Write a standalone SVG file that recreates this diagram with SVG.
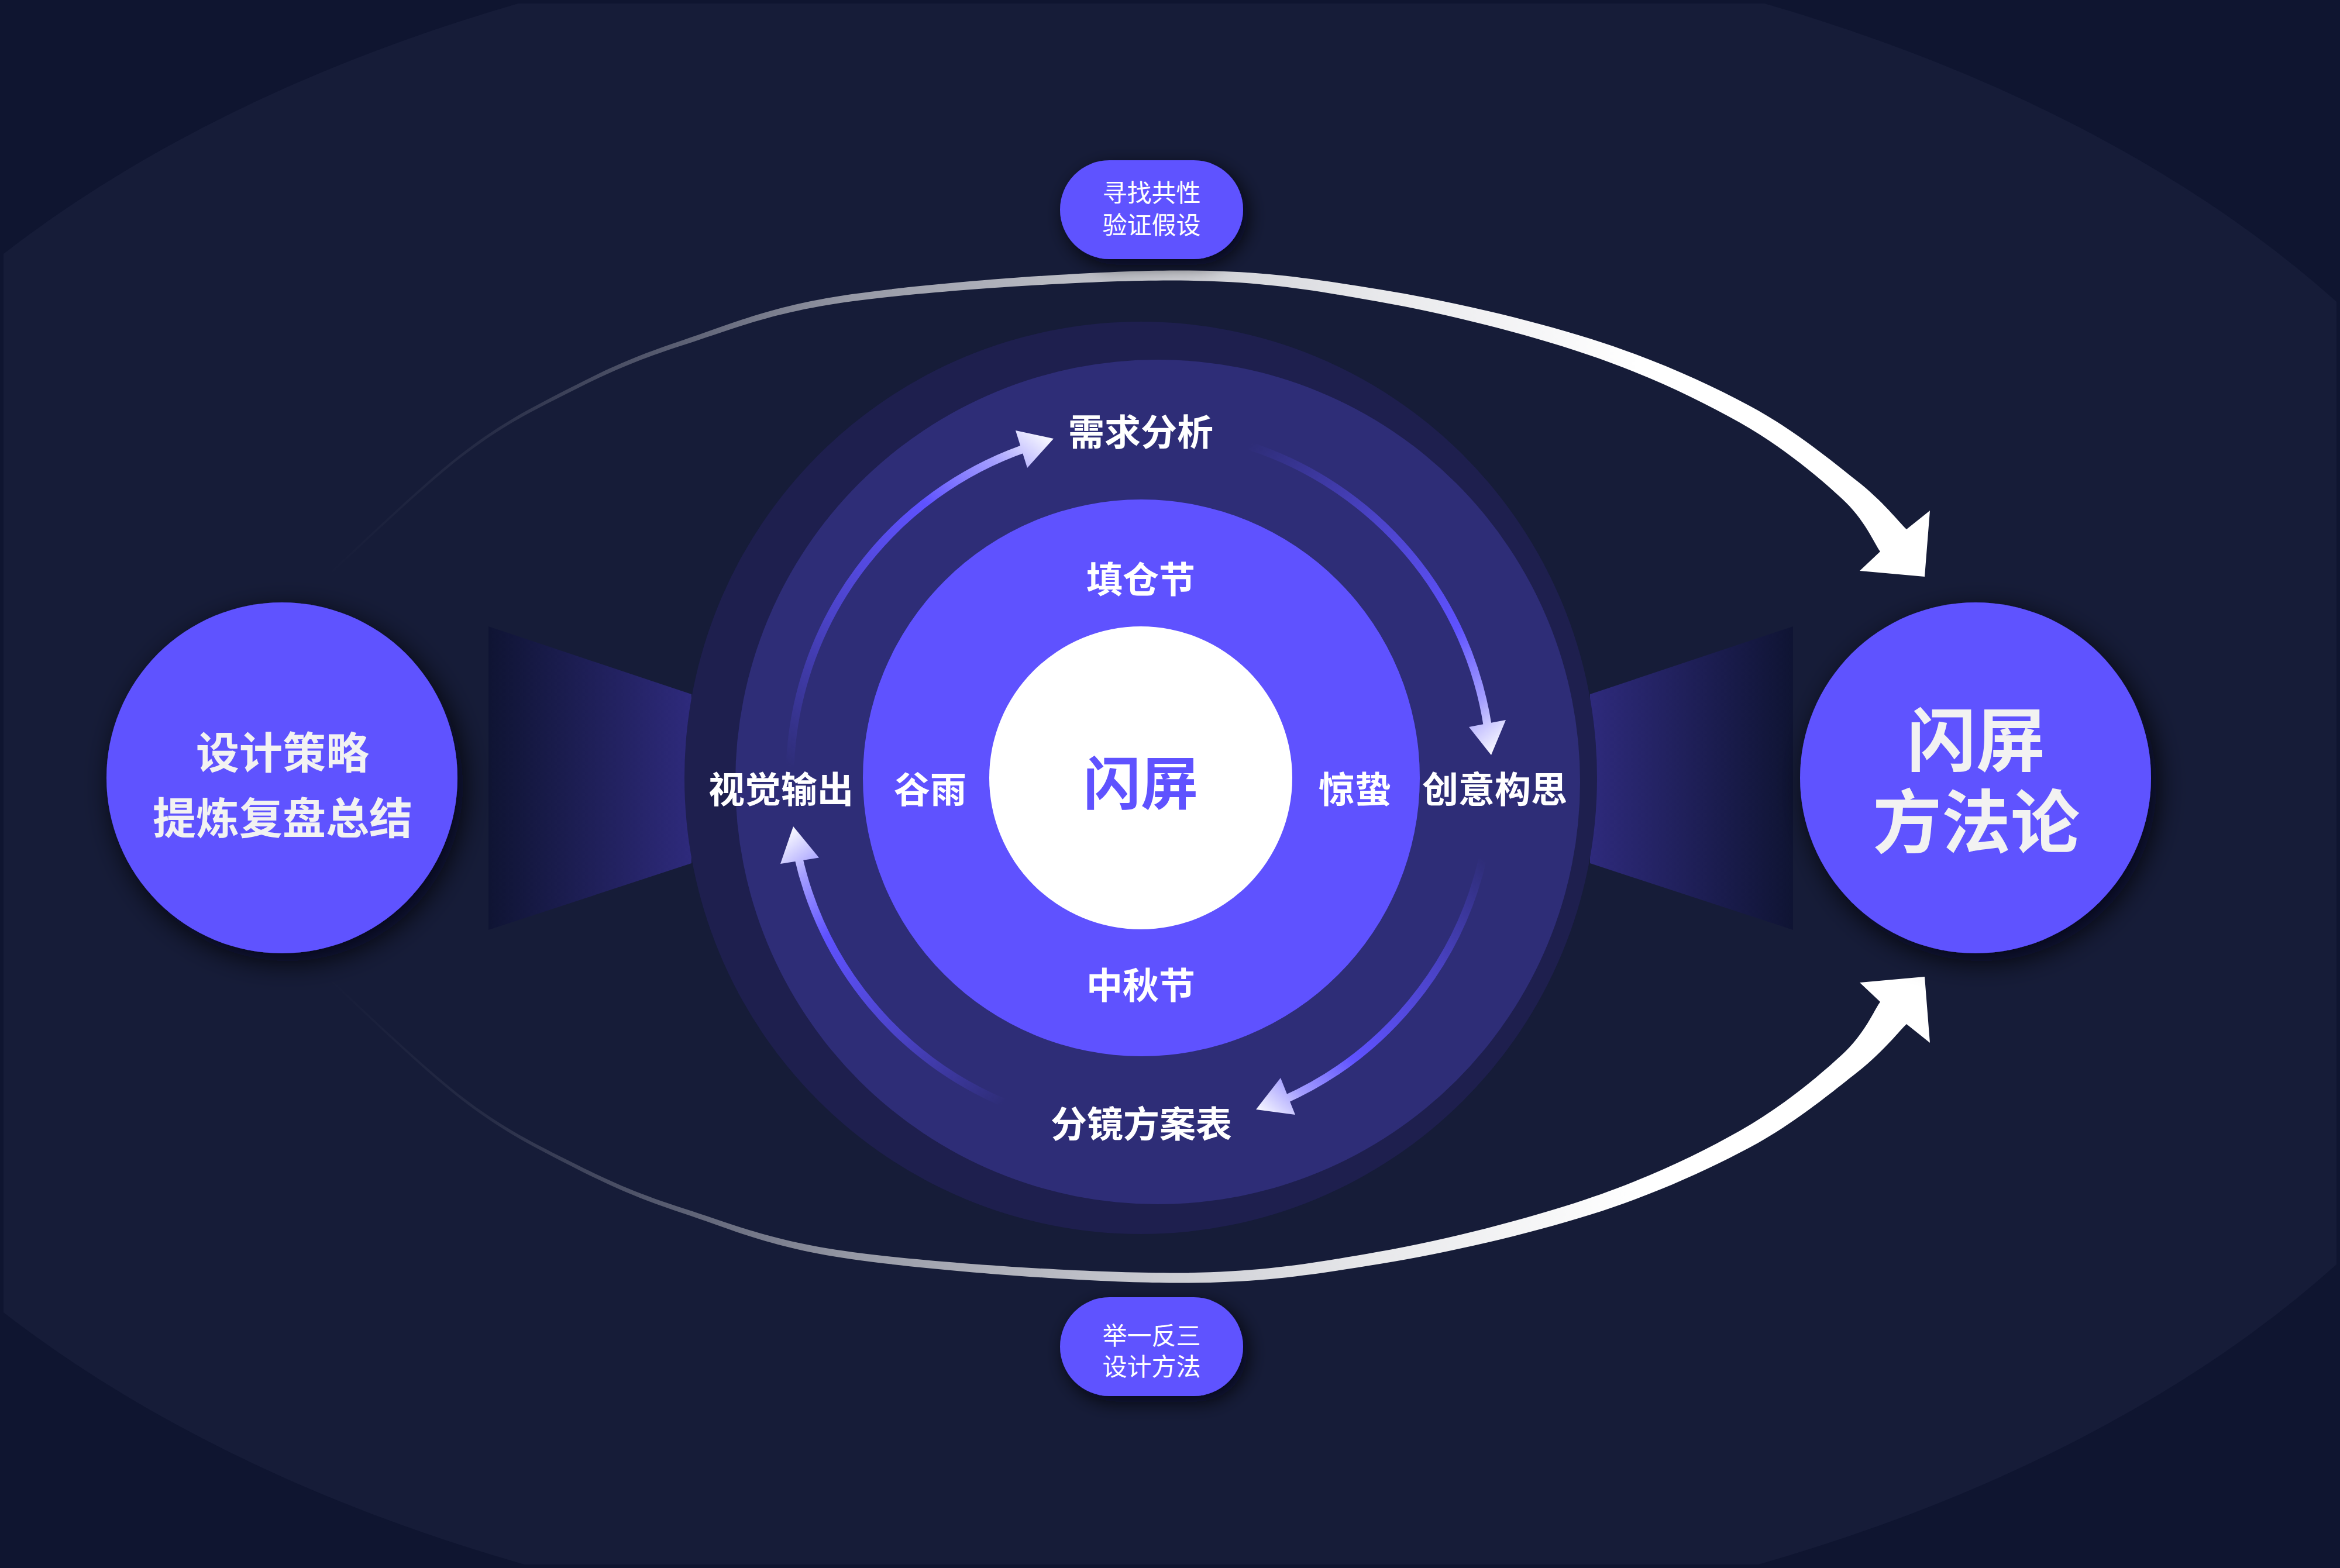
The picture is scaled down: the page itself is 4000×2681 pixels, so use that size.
<svg xmlns="http://www.w3.org/2000/svg" width="4000" height="2681" viewBox="0 0 4000 2681">
<defs>
<style>
.lbl{font-family:"Liberation Sans","Noto Sans CJK SC",sans-serif;font-weight:700;fill:#ffffff;text-anchor:middle;}
.big{font-family:"Liberation Sans","Noto Sans CJK SC",sans-serif;font-weight:700;fill:#f2f2f2;text-anchor:middle;}
.pill{font-family:"Liberation Sans","Noto Sans CJK SC",sans-serif;font-weight:400;fill:#ffffff;text-anchor:middle;font-size:42px;}
.purple{fill:#5f52ff;}
</style>
<clipPath id="inner"><rect x="6" y="6" width="3988" height="2669"/></clipPath>
<filter id="sh" x="-40%" y="-40%" width="180%" height="180%"><feDropShadow dx="10" dy="14" stdDeviation="24" flood-color="#04050d" flood-opacity="0.85"/></filter>
<filter id="shp" x="-40%" y="-40%" width="180%" height="180%"><feDropShadow dx="8" dy="10" stdDeviation="16" flood-color="#04050d" flood-opacity="0.8"/></filter>
<linearGradient id="trapL" gradientUnits="userSpaceOnUse" x1="835" y1="0" x2="1182" y2="0"><stop offset="0" stop-color="#0f1433"/><stop offset="1" stop-color="#2e2a7c"/></linearGradient>
<linearGradient id="trapR" gradientUnits="userSpaceOnUse" x1="3065" y1="0" x2="2718" y2="0"><stop offset="0" stop-color="#0f1433"/><stop offset="1" stop-color="#2e2a7c"/></linearGradient>
<linearGradient id="bigG" gradientUnits="userSpaceOnUse" x1="560" y1="0" x2="2800" y2="0">
<stop offset="0" stop-color="#ffffff" stop-opacity="0"/>
<stop offset="0.12" stop-color="#ffffff" stop-opacity="0.07"/>
<stop offset="0.27" stop-color="#ffffff" stop-opacity="0.3"/>
<stop offset="0.40" stop-color="#ffffff" stop-opacity="0.55"/>
<stop offset="0.64" stop-color="#ffffff" stop-opacity="0.78"/>
<stop offset="0.80" stop-color="#ffffff" stop-opacity="0.9"/>
<stop offset="1" stop-color="#ffffff" stop-opacity="1"/>
</linearGradient>
<linearGradient id="g1" gradientUnits="userSpaceOnUse" x1="1350" y1="1312" x2="1790" y2="752">
<stop offset="0" stop-color="#5f52ff" stop-opacity="0"/><stop offset="0.35" stop-color="#5f52ff" stop-opacity="0.6"/><stop offset="0.7" stop-color="#5f52ff"/><stop offset="0.88" stop-color="#a49eff"/><stop offset="1" stop-color="#f4f4ff"/>
</linearGradient>
<linearGradient id="g2" gradientUnits="userSpaceOnUse" x1="2135" y1="762" x2="2549" y2="1285">
<stop offset="0" stop-color="#5f52ff" stop-opacity="0"/><stop offset="0.35" stop-color="#5f52ff" stop-opacity="0.6"/><stop offset="0.7" stop-color="#5f52ff"/><stop offset="0.88" stop-color="#a49eff"/><stop offset="1" stop-color="#f4f4ff"/>
</linearGradient>
<linearGradient id="g3" gradientUnits="userSpaceOnUse" x1="2535" y1="1468" x2="2150" y2="1895">
<stop offset="0" stop-color="#5f52ff" stop-opacity="0"/><stop offset="0.35" stop-color="#5f52ff" stop-opacity="0.6"/><stop offset="0.7" stop-color="#5f52ff"/><stop offset="0.88" stop-color="#a49eff"/><stop offset="1" stop-color="#f4f4ff"/>
</linearGradient>
<linearGradient id="g4" gradientUnits="userSpaceOnUse" x1="1716" y1="1885" x2="1358" y2="1420">
<stop offset="0" stop-color="#5f52ff" stop-opacity="0"/><stop offset="0.35" stop-color="#5f52ff" stop-opacity="0.6"/><stop offset="0.7" stop-color="#5f52ff"/><stop offset="0.88" stop-color="#a49eff"/><stop offset="1" stop-color="#f4f4ff"/>
</linearGradient>
</defs>

<g id="background">
<rect x="0" y="0" width="4000" height="2681" fill="#0f1530"/>
<ellipse cx="1951" cy="1339" rx="2459" ry="1479" fill="#161c38" clip-path="url(#inner)"/>
<polygon points="835,1071 1182,1187 1182,1476 835,1590" fill="url(#trapL)"/>
<polygon points="3065,1071 2718,1187 2718,1476 3065,1590" fill="url(#trapR)"/>
</g>

<g id="rings">
<circle cx="1950" cy="1330" r="780" fill="#1e1f4e"/>
<circle cx="1979" cy="1337" r="722" fill="#2e2d77"/>
</g>

<g id="connectors">
<path id="bigArcTop" fill="url(#bigG)" d="M 534 1007 C 576 969 712 835.5 786 778 C 860 720.5 913 695 977 662 C 1041 629 1089 607.5 1169 581 C 1249 554.5 1317.5 522.75 1456 503 C 1594.5 483.25 1849.5 463.8 2000 462.5 C 2150.5 461.2 2239.3 475.6 2359 495 C 2478.7 514.4 2612.8 545.9 2718 579 C 2823.2 612.1 2914 653 2990 693.5 C 3066 734 3129.2 786.75 3174 822 C 3218.8 857.25 3244.8 891.2 3259 905 L 3299 873 L 3290 986 L 3179 976 L 3214 943 C 3203 927.8 3188 888.75 3148 852 C 3108 815.25 3047 763.7 2974 722.5 C 2901 681.3 2813.2 639.5 2710 605 C 2606.8 570.5 2473.3 536.4 2355 515.5 C 2236.7 494.6 2149.5 479.4 2000 479.5 C 1850.5 479.6 1596.2 496.75 1458 515 C 1319.8 533.25 1250.8 563.5 1171 589 C 1091.2 614.5 1042.8 635.8 979 668 C 915.2 700.2 861.8 725.2 788 782 C 714.2 838.8 578 971.2 536 1009 Z"/>
<path id="bigArcBottom" transform="matrix(1 0 0 -1 0 2656)" fill="url(#bigG)" d="M 534 1007 C 576 969 712 835.5 786 778 C 860 720.5 913 695 977 662 C 1041 629 1089 607.5 1169 581 C 1249 554.5 1317.5 522.75 1456 503 C 1594.5 483.25 1849.5 463.8 2000 462.5 C 2150.5 461.2 2239.3 475.6 2359 495 C 2478.7 514.4 2612.8 545.9 2718 579 C 2823.2 612.1 2914 653 2990 693.5 C 3066 734 3129.2 786.75 3174 822 C 3218.8 857.25 3244.8 891.2 3259 905 L 3299 873 L 3290 986 L 3179 976 L 3214 943 C 3203 927.8 3188 888.75 3148 852 C 3108 815.25 3047 763.7 2974 722.5 C 2901 681.3 2813.2 639.5 2710 605 C 2606.8 570.5 2473.3 536.4 2355 515.5 C 2236.7 494.6 2149.5 479.4 2000 479.5 C 1850.5 479.6 1596.2 496.75 1458 515 C 1319.8 533.25 1250.8 563.5 1171 589 C 1091.2 614.5 1042.8 635.8 979 668 C 915.2 700.2 861.8 725.2 788 782 C 714.2 838.8 578 971.2 536 1009 Z"/>
<path d="M 1350.4 1312.1 A 600 600 0 0 1 1754.6 765.7" fill="none" stroke="url(#g1)" stroke-width="14"/>
<polygon points="1736,736 1801,750 1756,800" fill="url(#g1)"/>
<path d="M 2135.4 762.4 A 600 600 0 0 1 2543.4 1244.3" fill="none" stroke="url(#g2)" stroke-width="14"/>
<polygon points="2511,1243 2549,1291 2574,1231" fill="url(#g2)"/>
<path d="M 2534.6 1468 A 600 600 0 0 1 2194 1881.1" fill="none" stroke="url(#g3)" stroke-width="14"/>
<polygon points="2189,1843 2147,1897 2214,1906" fill="url(#g3)"/>
<path d="M 1715.6 1885.3 A 600 600 0 0 1 1364.2 1462.9" fill="none" stroke="url(#g4)" stroke-width="14"/>
<polygon points="1334,1477 1356,1413 1400,1466.5" fill="url(#g4)"/>
</g>

<g id="node-core">
<circle cx="1951" cy="1330" r="476" class="purple"/>
<circle cx="1950" cy="1330" r="259" fill="#ffffff"/>
<text x="1950" y="1375" class="lbl" style="font-size:98px;fill:#5f52ff">闪屏</text>
</g>

<g id="node-seasons">
<text x="1950" y="1014" class="lbl" font-size="62">填仓节</text>
<text x="1950" y="1708" class="lbl" font-size="62">中秋节</text>
<text x="1590" y="1373" class="lbl" font-size="62">谷雨</text>
<text x="2316" y="1373" class="lbl" font-size="62">惊蛰</text>
</g>

<g id="node-steps">
<text x="1950" y="762" class="lbl" font-size="62">需求分析</text>
<text x="2555" y="1373" class="lbl" font-size="62">创意构思</text>
<text x="1951" y="1945" class="lbl" font-size="62">分镜方案表</text>
<text x="1335" y="1373" class="lbl" font-size="62">视觉输出</text>
</g>

<g id="node-left">
<circle cx="482" cy="1330" r="300" class="purple" filter="url(#sh)"/>
<text x="483" y="1314" class="big" font-size="74">设计策略</text>
<text x="483" y="1426" class="big" font-size="74">提炼复盘总结</text>
</g>

<g id="node-right">
<circle cx="3377" cy="1330" r="300" class="purple" filter="url(#sh)"/>
<text x="3378" y="1309" class="big" font-size="118">闪屏</text>
<text x="3378" y="1449" class="big" font-size="118">方法论</text>
</g>

<g id="node-pill-top">
<rect x="1812" y="274" width="313" height="169" rx="84.5" class="purple" filter="url(#shp)"/>
<text x="1968.5" y="345" class="pill">寻找共性</text>
<text x="1968.5" y="400" class="pill">验证假设</text>
</g>

<g id="node-pill-bottom">
<rect x="1812" y="2218" width="313" height="169" rx="84.5" class="purple" filter="url(#shp)"/>
<text x="1968.5" y="2299" class="pill">举一反三</text>
<text x="1968.5" y="2352" class="pill">设计方法</text>
</g>
</svg>
